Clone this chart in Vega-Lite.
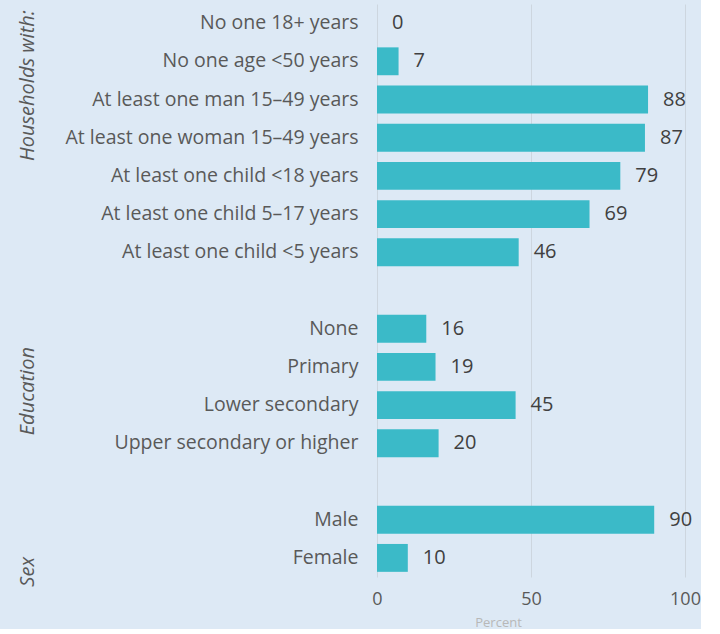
{
  "$schema": "https://vega.github.io/schema/vega-lite/v6.json",
  "background": "#dde9f5",
  "padding": {"left": 0, "top": 4, "right": 0, "bottom": 0},
  "spacing": 0,
  "datasets": {
    "bars": [
      {"group": "Households with:", "label": "No one 18+ years", "value": 0},
      {"group": "Households with:", "label": "No one age <50 years", "value": 7},
      {"group": "Households with:", "label": "At least one man 15–49 years", "value": 88},
      {"group": "Households with:", "label": "At least one woman 15–49 years", "value": 87},
      {"group": "Households with:", "label": "At least one child <18 years", "value": 79},
      {"group": "Households with:", "label": "At least one child 5–17 years", "value": 69},
      {"group": "Households with:", "label": "At least one child <5 years", "value": 46},
      {"group": "Education", "label": "None", "value": 16},
      {"group": "Education", "label": "Primary", "value": 19},
      {"group": "Education", "label": "Lower secondary", "value": 45},
      {"group": "Education", "label": "Upper secondary or higher", "value": 20},
      {"group": "Sex", "label": "Male", "value": 90},
      {"group": "Sex", "label": "Female", "value": 10}
    ],
    "groups": [
      {"group": "Households with:", "anchor": "At least one man 15–49 years", "edge": "top"},
      {"group": "Education", "anchor": "Lower secondary", "edge": "top"},
      {"group": "Sex", "anchor": "Female", "edge": "bottom"}
    ]
  },
  "resolve": {"scale": {"y": "shared"}},
  "config": {
    "view": {"stroke": null},
    "font": "Open Sans",
    "axisY": {"domain": false, "ticks": false, "grid": false, "labelFontSize": 19.5, "labelColor": "#595959", "labelPadding": 19, "labelLimit": 400, "title": null, "labelFont": "Open Sans"},
    "axisX": {"domain": false, "ticks": false, "grid": true, "gridColor": "#cdd6df", "labelFontSize": 18, "labelColor": "#595959", "labelPadding": 13, "labelFlush": false, "labelFont": "Open Sans"}
  },
  "hconcat": [
    {
      "width": 56,
      "height": 573,
      "data": {"name": "groups"},
      "layer": [
        {
          "transform": [{"filter": "datum.edge === 'top'"}],
          "mark": {"type": "text", "angle": 270, "fontSize": 20, "fontStyle": "italic", "color": "#595959", "align": "center", "baseline": "middle"},
          "encoding": {
            "y": {"field": "anchor", "type": "nominal", "bandPosition": 0, "axis": null,
                  "scale": {"domain": ["No one 18+ years", "No one age <50 years", "At least one man 15–49 years", "At least one woman 15–49 years", "At least one child <18 years", "At least one child 5–17 years", "At least one child <5 years", " ", "None", "Primary", "Lower secondary", "Upper secondary or higher", "  ", "Male", "Female"], "paddingInner": 0.27, "paddingOuter": 0.135}},
            "text": {"field": "group"}
          }
        },
        {
          "transform": [{"filter": "datum.edge === 'bottom'"}],
          "mark": {"type": "text", "angle": 270, "fontSize": 20, "fontStyle": "italic", "color": "#595959", "align": "center", "baseline": "middle"},
          "encoding": {
            "y": {"field": "anchor", "type": "nominal", "bandPosition": 1, "axis": null},
            "text": {"field": "group"}
          }
        }
      ]
    },
    {
      "width": 308,
      "height": 573,
      "data": {"name": "bars"},
      "encoding": {
        "y": {"field": "label", "type": "nominal", "sort": null,
              "axis": {"minExtent": 321, "maxExtent": 321},
              "scale": {"domain": ["No one 18+ years", "No one age <50 years", "At least one man 15–49 years", "At least one woman 15–49 years", "At least one child <18 years", "At least one child 5–17 years", "At least one child <5 years", " ", "None", "Primary", "Lower secondary", "Upper secondary or higher", "  ", "Male", "Female"], "paddingInner": 0.27, "paddingOuter": 0.135}},
        "x": {"field": "value", "type": "quantitative", "scale": {"domain": [0, 100]},
              "axis": {"values": [0, 50, 100], "title": "Percent", "titleFontSize": 13, "titleColor": "#b8b8b8", "titleFontWeight": "normal", "titlePadding": 8, "titleX": 121}}
      },
      "layer": [
        {"mark": {"type": "bar", "color": "#3bbac8"}},
        {"mark": {"type": "text", "align": "left", "baseline": "middle", "dx": 15, "fontSize": 20, "color": "#404040"},
         "encoding": {"text": {"field": "value", "type": "quantitative"}}}
      ]
    }
  ]
}
